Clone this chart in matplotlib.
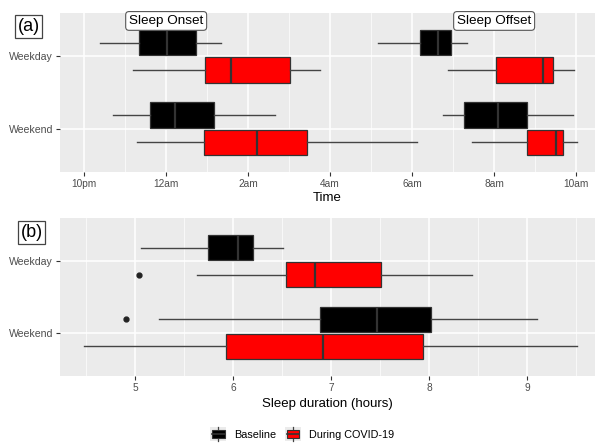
import matplotlib
matplotlib.use("Agg")
import matplotlib.pyplot as plt
from matplotlib.patches import Rectangle, Patch
from matplotlib.lines import Line2D
from matplotlib.legend_handler import HandlerBase

plt.rcParams['font.family'] = ['Liberation Sans', 'DejaVu Sans']

# ---------------- data ----------------
days = ["Weekday", "Weekend"]
groups = ["Baseline", "During COVID-19"]
group_colors = ["#000000", "#FF0000"]

# Panel (a): times in hours relative to midnight (negative = before midnight)
time_ticks = [-2, 0, 2, 4, 6, 8, 10]
time_labels = ["10pm", "12am", "2am", "4am", "6am", "8am", "10am"]

# [whislo, q1, median, q3, whishi]
onset_baseline = {"Weekday": [-1.61, -0.66, 0.02, 0.73, 1.34],
                  "Weekend": [-1.29, -0.39, 0.22, 1.17, 2.66]}
onset_covid = {"Weekday": [-0.80, 0.95, 1.59, 3.02, 3.76],
               "Weekend": [-0.71, 0.93, 2.22, 3.44, 6.12]}
offset_baseline = {"Weekday": [5.17, 6.20, 6.63, 6.95, 7.34],
                   "Weekend": [6.76, 7.27, 8.10, 8.80, 9.93]}
offset_covid = {"Weekday": [6.88, 8.05, 9.20, 9.44, 9.95],
                "Weekend": [7.46, 8.80, 9.51, 9.68, 10.02]}

# Panel (b): sleep duration in hours
dur_baseline = {"Weekday": [5.06, 5.745, 6.05, 6.20, 6.51],
                "Weekend": [5.245, 6.89, 7.47, 8.02, 9.10]}
dur_covid = {"Weekday": [5.63, 6.54, 6.84, 7.51, 8.44],
             "Weekend": [4.48, 5.93, 6.92, 7.94, 9.51]}
dur_baseline_out = {"Weekday": [], "Weekend": [4.91]}
dur_covid_out = {"Weekday": [5.04], "Weekend": []}

dur_ticks = [5, 6, 7, 8, 9]

# ---------------- styling ----------------
BG = "#EBEBEB"
EDGE = "#333333"
WHISK = "#444444"
TICKCOL = "#4D4D4D"

day_pos = {"Weekday": 2.0, "Weekend": 1.0}
dodge = [0.1875, -0.1875]
box_w = 0.35


def stats(vals, fliers=()):
    lo, q1, med, q3, hi = vals
    return dict(whislo=lo, q1=q1, med=med, q3=q3, whishi=hi, fliers=list(fliers))


def draw(ax, data, color, offset, outliers=None):
    st = []
    pos = []
    for d in days:
        st.append(stats(data[d], outliers[d] if outliers else ()))
        pos.append(day_pos[d] + offset)
    ax.bxp(st, positions=pos, widths=box_w, orientation='horizontal',
           showcaps=False, patch_artist=True,
           boxprops=dict(facecolor=color, edgecolor=EDGE, linewidth=0.9),
           medianprops=dict(color=EDGE, linewidth=1.6),
           whiskerprops=dict(color=WHISK, linewidth=1.0),
           flierprops=dict(marker='o', markerfacecolor='#222222',
                           markeredgecolor='#222222', markersize=3.5),
           zorder=3)


def style(ax, xlim):
    ax.set_facecolor(BG)
    for s in ax.spines.values():
        s.set_visible(False)
    ax.set_xlim(*xlim)
    ax.set_ylim(0.4, 2.6)
    ax.grid(which='major', color='white', linewidth=1.1, zorder=0)
    ax.grid(which='minor', axis='x', color='white', linewidth=0.5, zorder=0)
    ax.set_axisbelow(True)
    ax.tick_params(which='major', length=3, width=0.8, color=EDGE,
                   labelcolor=TICKCOL, labelsize=7.3, pad=2)
    ax.tick_params(which='minor', length=0)
    ax.tick_params(axis='y', labelsize=7.6)


fig = plt.figure(figsize=(5.97, 4.45), dpi=100)

# ---------- panel (a) ----------
ax1 = fig.add_axes([60 / 597, 1 - 172 / 445, 535 / 597, 159 / 445])
style(ax1, (-2.59, 10.46))
for data, col, off in [(onset_baseline, group_colors[0], dodge[0]),
                       (onset_covid, group_colors[1], dodge[1]),
                       (offset_baseline, group_colors[0], dodge[0]),
                       (offset_covid, group_colors[1], dodge[1])]:
    draw(ax1, data, col, off)
ax1.set_xticks(time_ticks)
ax1.set_xticklabels(time_labels)
ax1.set_xticks([t + 1 for t in time_ticks[:-1]], minor=True)
ax1.set_yticks([day_pos[d] for d in days])
ax1.set_yticklabels(days)
ax1.set_xlabel("Time", fontsize=9.5, labelpad=2)

lab_box = dict(boxstyle="round,pad=0.25,rounding_size=0.25", facecolor="white",
               edgecolor="#555555", linewidth=0.8)
ax1.text(0.0, 2.49, "Sleep Onset", ha='center', va='center', fontsize=9.7,
         bbox=lab_box, zorder=5)
ax1.text(8.0, 2.49, "Sleep Offset", ha='center', va='center', fontsize=9.7,
         bbox=lab_box, zorder=5)

# ---------- panel (b) ----------
ax2 = fig.add_axes([60 / 597, 1 - 376 / 445, 535 / 597, 158 / 445])
style(ax2, (4.235, 9.69))
draw(ax2, dur_baseline, group_colors[0], dodge[0], dur_baseline_out)
draw(ax2, dur_covid, group_colors[1], dodge[1], dur_covid_out)
ax2.set_xticks(dur_ticks)
ax2.set_xticklabels([str(t) for t in dur_ticks])
ax2.set_xticks([t - 0.5 for t in dur_ticks] + [dur_ticks[-1] + 0.5], minor=True)
ax2.set_yticks([day_pos[d] for d in days])
ax2.set_yticklabels(days)
ax2.set_xlabel("Sleep duration (hours)", fontsize=9.5, labelpad=4)

# panel tags
tag_box = dict(boxstyle="square,pad=0.14", facecolor="white",
               edgecolor="#444444", linewidth=0.9)
fig.text(28.5 / 597, 1 - 26.5 / 445, "(a)", ha='center', va='center',
         fontsize=13, bbox=tag_box)
fig.text(31.5 / 597, 1 - 232.5 / 445, "(b)", ha='center', va='center',
         fontsize=13, bbox=tag_box)


# ---------- legend ----------
class BoxKey(HandlerBase):
    def create_artists(self, legend, orig_handle, xdescent, ydescent,
                       width, height, fontsize, trans):
        x0, y0 = -xdescent, -ydescent
        fc = orig_handle.get_facecolor()
        bg = Rectangle((x0, y0), width, height, facecolor=BG,
                       edgecolor='none', transform=trans)
        vl = Line2D([x0 + width / 2] * 2, [y0, y0 + height], color=WHISK,
                    lw=0.9, transform=trans)
        bx = Rectangle((x0 + width * 0.12, y0 + height * 0.22), width * 0.76,
                       height * 0.56, facecolor=fc, edgecolor=EDGE, lw=0.8,
                       transform=trans)
        md = Line2D([x0 + width * 0.12, x0 + width * 0.88],
                    [y0 + height / 2] * 2, color=EDGE, lw=1.2, transform=trans)
        return [bg, vl, bx, md]


handles = [Patch(facecolor=c) for c in group_colors]
fig.legend(handles, groups, loc='center', bbox_to_anchor=(302 / 597, 1 - 434 / 445),
           ncol=2, frameon=False, fontsize=7.8, handlelength=1.5,
           handleheight=1.6, handletextpad=0.7, columnspacing=0.8,
           handler_map={Patch: BoxKey()})

fig.savefig("out.png", dpi=100)
